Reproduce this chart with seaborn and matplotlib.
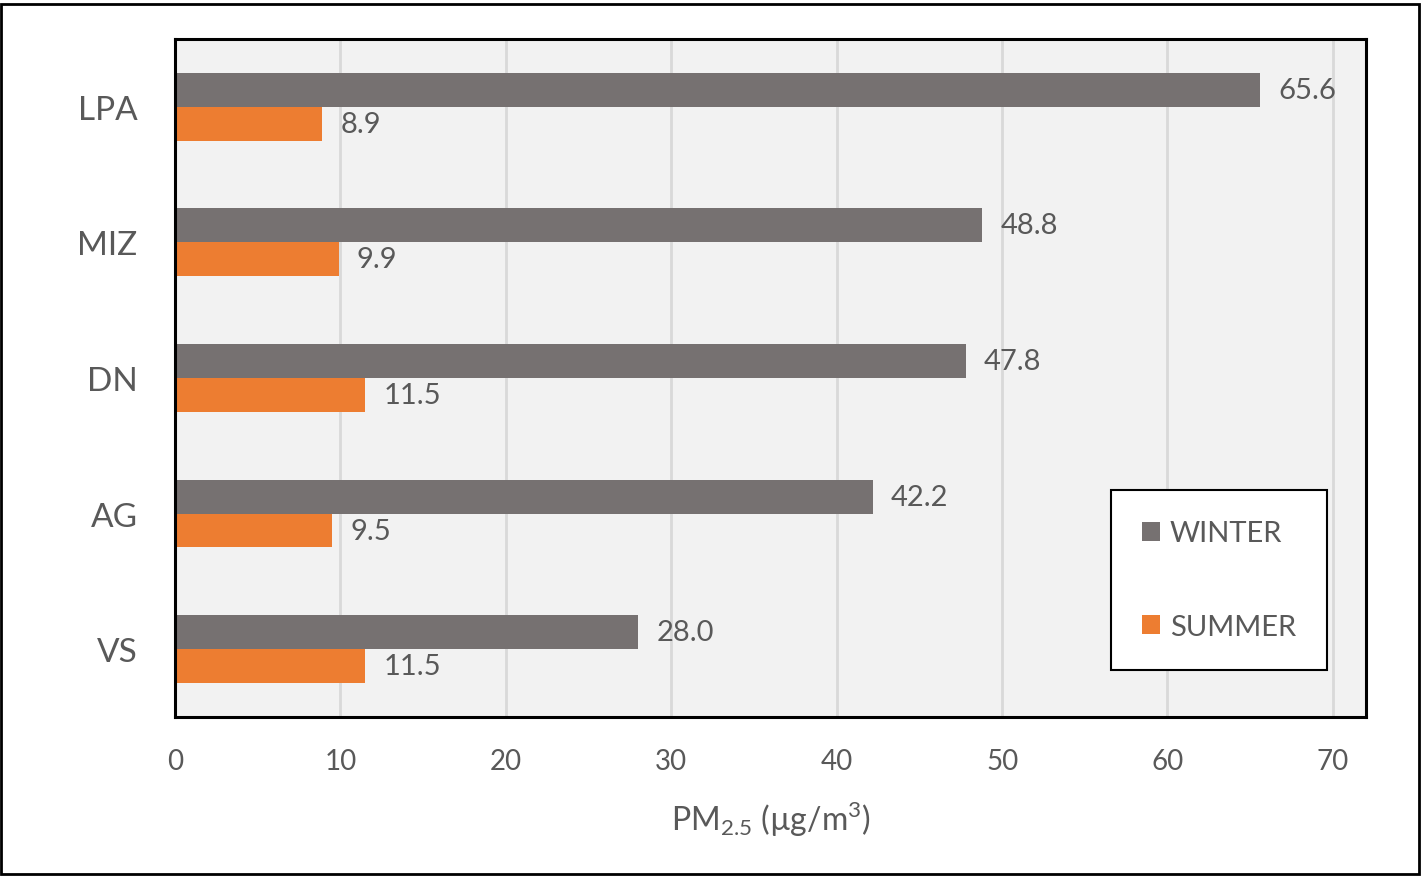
import pandas as pd
import numpy as np
import matplotlib.pyplot as plt
import matplotlib.patches as mpatches
import seaborn as sns

# values
sites = ['LPA', 'MIZ', 'DN', 'AG', 'VS']
winter = [65.6, 48.8, 47.8, 42.2, 28.0]
summer = [8.9, 9.9, 11.5, 9.5, 11.5]
seasons = ['WINTER', 'SUMMER']
season_colors = ['#767171', '#ED7D31']
x_ticks = [0, 10, 20, 30, 40, 50, 60, 70]

df = pd.DataFrame({
    'site': sites * 2,
    'value': winter + summer,
    'season': [seasons[0]] * len(sites) + [seasons[1]] * len(sites),
})

sns.set_theme(style='whitegrid')
plt.rcParams['font.family'] = ['Lato', 'DejaVu Sans']
plt.rcParams['mathtext.fontset'] = 'custom'
plt.rcParams['mathtext.rm'] = 'Lato'

txt = '#595959'

fig = plt.figure(figsize=(14.22, 8.79), dpi=100)
ax = fig.add_axes([0.1231, 0.1832, 0.8375, 0.7713])

sns.barplot(data=df, y='site', x='value', hue='season', orient='h',
            order=sites, hue_order=seasons, palette=season_colors,
            width=0.5, saturation=1, gap=0, linewidth=0, ax=ax)

for cont in ax.containers:
    ax.bar_label(cont, fmt='%.1f', padding=13, fontsize=21, color=txt)

ax.set_facecolor('#F2F2F2')
ax.set_xlim(0, 72)
ax.set_ylim(4.5, -0.5)
ax.set_xticks(x_ticks)
ax.grid(axis='x', color='#D9D9D9', linewidth=2)
ax.grid(axis='y', visible=False)
ax.set_axisbelow(True)
for side in ['top', 'right', 'left', 'bottom']:
    ax.spines[side].set_color('black')
    ax.spines[side].set_linewidth(2.2)
ax.tick_params(axis='y', length=0, pad=27, labelsize=24, labelcolor=txt)
ax.tick_params(axis='x', length=0, pad=22, labelsize=20, labelcolor=txt)
ax.set_ylabel('')
ax.set_xlabel(r'PM$_{\mathregular{2.5}}$ (µg/m$^{\mathregular{3}}$)',
              fontsize=23, color=txt, labelpad=18)

leg = ax.legend(loc='upper left', bbox_to_anchor=(0.786, 0.335), fontsize=21,
                frameon=True, fancybox=False, edgecolor='black', facecolor='white',
                framealpha=1, handlelength=0.62, handleheight=0.62,
                handletextpad=0.35, labelspacing=2.3, borderpad=1.05,
                borderaxespad=0)
leg.get_frame().set_linewidth(1.5)
for t in leg.get_texts():
    t.set_color(txt)

# outer frame around the whole picture
fig.patches.append(mpatches.Rectangle((0.001, 0.004), 0.997, 0.99, transform=fig.transFigure,
                                      fill=False, edgecolor='black', linewidth=2))

fig.savefig('out.png', dpi=100)
